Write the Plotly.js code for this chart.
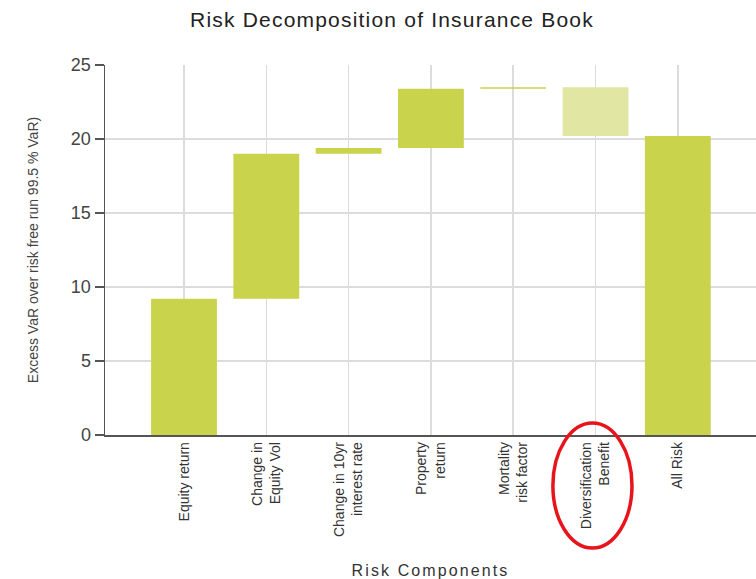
<!DOCTYPE html>
<html>
<head>
<meta charset="utf-8">
<script src="https://cdn.plot.ly/plotly-3.0.1.min.js"></script>
<style>
  html, body { margin: 0; padding: 0; background: #fff; }
  #chart { width: 756px; height: 579px; }
  /* wider tracking for the chart and axis titles */
  #chart .gtitle { letter-spacing: 1.2px; }
  #chart .xtitle { letter-spacing: 2.1px; }
</style>
</head>
<body>
<div id="chart"></div>
<script>
// Risk components and their contribution to excess VaR
const categories = [
  "Equity return",
  "Change in<br>Equity Vol",
  "Change in 10yr<br>interest rate",
  "Property<br>return",
  "Mortality<br>risk factor",
  "Diversification<br>Benefit",
  "All Risk"
];
const contributions = [9.2, 9.8, 0.4, 4.0, 0.1, -3.3, 0];
const measures = ["relative", "relative", "relative", "relative", "relative", "relative", "total"];
const yTicks = [0, 5, 10, 15, 20, 25];

const green = "#c9d34b";
const paleGreen = "#e1e6a3";

const trace = {
  type: "waterfall",
  x: categories,
  y: contributions,
  measure: measures,
  width: 0.8,
  increasing: { marker: { color: green } },
  decreasing: { marker: { color: paleGreen } },
  totals: { marker: { color: green } },
  connector: { visible: false },
  hoverinfo: "x+y"
};

const font = "Liberation Sans, Arial, sans-serif";
const narrow = "Liberation Sans Narrow, Arial Narrow, Liberation Sans, sans-serif";

const layout = {
  width: 756,
  height: 579,
  margin: { l: 105, r: 0, t: 65, b: 144 },
  paper_bgcolor: "#ffffff",
  plot_bgcolor: "#ffffff",
  showlegend: false,
  title: {
    text: "Risk Decomposition of Insurance Book",
    font: { family: font, size: 21, color: "#222" },
    x: 0.5185, xanchor: "center",
    y: 0.9655, yanchor: "middle"
  },
  xaxis: {
    type: "category",
    range: [-0.96, 6.95],
    tickangle: -90,
    tickfont: { family: font, size: 14, color: "#333" },
    showgrid: true,
    gridcolor: "#dcdcdc",
    gridwidth: 1.5,
    showline: true,
    linecolor: "#555",
    linewidth: 1.5,
    ticks: "",
    title: {
      text: "Risk Components",
      font: { family: font, size: 16, color: "#333" },
      standoff: 29
    },
    automargin: false
  },
  yaxis: {
    range: [0, 25],
    tickvals: yTicks,
    tickfont: { family: font, size: 18, color: "#444" },
    showgrid: true,
    gridcolor: "#dcdcdc",
    gridwidth: 1.5,
    zeroline: false,
    showline: true,
    linecolor: "#555",
    linewidth: 1.5,
    ticks: "outside",
    ticklen: 9,
    tickcolor: "#555",
    tickwidth: 1.5,
    title: {
      text: "Excess VaR over risk free run 99.5 % VaR)",
      font: { family: narrow, size: 14, color: "#444" },
      standoff: 29
    },
    automargin: false
  },
  shapes: [
    {
      // highlight around the diversification benefit label
      type: "circle",
      xref: "paper", yref: "paper",
      x0: 0.688, x1: 0.8095,
      y0: -0.3054, y1: 0.0324,
      line: { color: "#e8141b", width: 3.5 },
      fillcolor: "rgba(0,0,0,0)"
    }
  ]
};

Plotly.newPlot("chart", [trace], layout, { displayModeBar: false, staticPlot: true });
</script>
</body>
</html>
